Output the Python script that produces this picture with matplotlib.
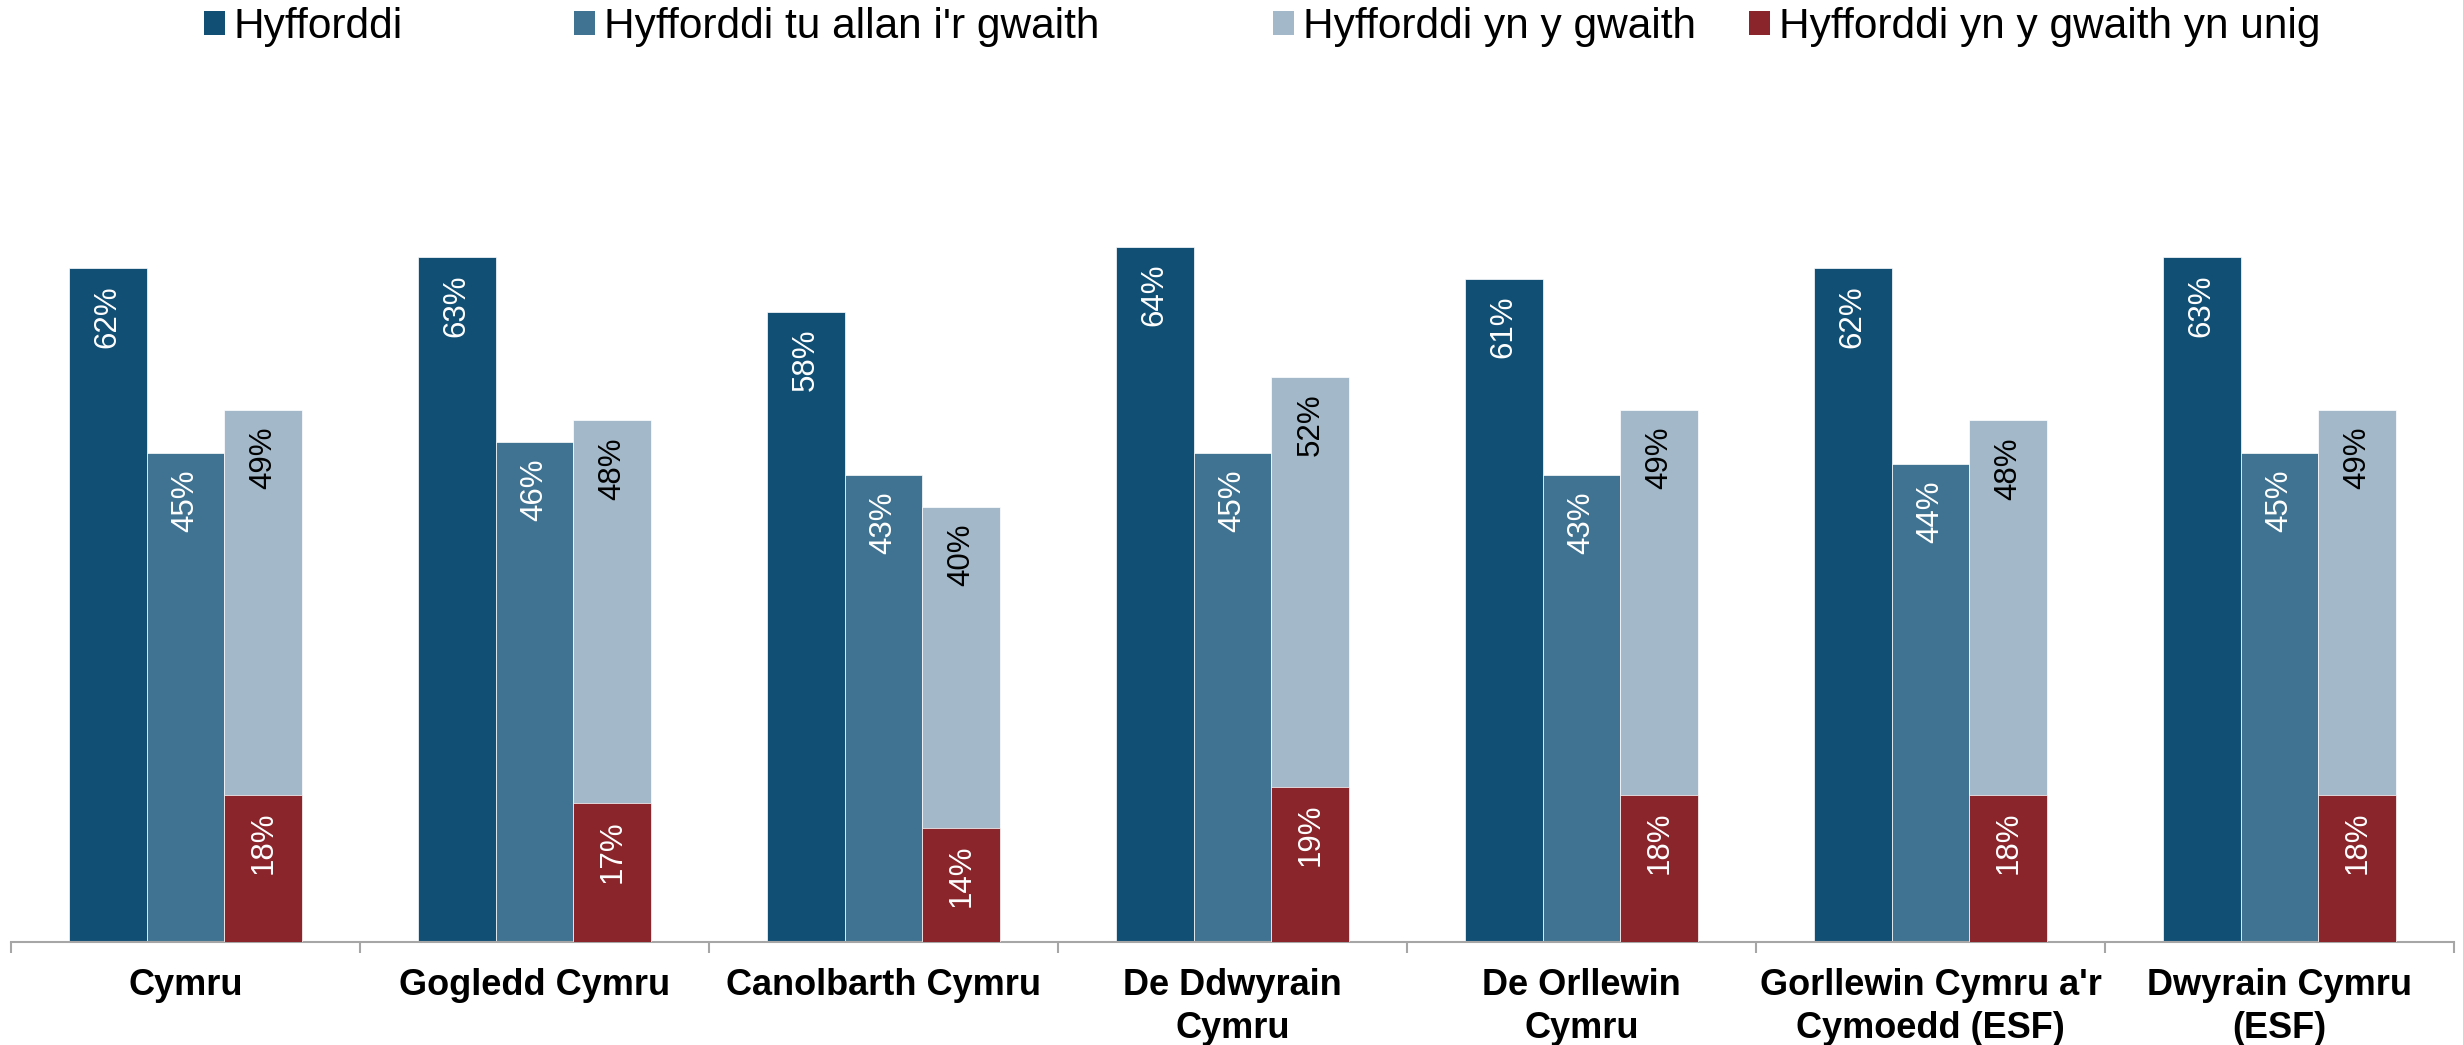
import numpy as np
import matplotlib.pyplot as plt
from matplotlib.patches import Patch

plt.rcParams["font.family"] = ["Liberation Sans", "DejaVu Sans"]

regions = [
    "Cymru",
    "Gogledd Cymru",
    "Canolbarth Cymru",
    "De Ddwyrain\nCymru",
    "De Orllewin\nCymru",
    "Gorllewin Cymru a'r\nCymoedd (ESF)",
    "Dwyrain Cymru\n(ESF)",
]
series_names = [
    "Hyfforddi",
    "Hyfforddi tu allan i'r gwaith",
    "Hyfforddi yn y gwaith",
    "Hyfforddi yn y gwaith yn unig",
]
hyfforddi = [62, 63, 58, 64, 61, 62, 63]
tu_allan = [45, 46, 43, 45, 43, 44, 45]
yn_y_gwaith = [49, 48, 40, 52, 49, 48, 49]
yn_unig = [18, 17, 14, 19, 18, 18, 18]

colors = ["#114F74", "#407391", "#A3B9C9", "#8A252B"]
label_colors = ["white", "white", "black", "white"]
axis_grey = "#A6A6A6"

fig = plt.figure(figsize=(24.63, 10.45), dpi=100)
ax = fig.add_axes([11 / 2463, 1 - 942 / 1045, (2454 - 11) / 2463, 815 / 1045])
ax2 = ax.twinx()  # red series sits on its own scale

x = np.arange(len(regions))
w = 0.2227


def add_labels(axis, bars, vals, color):
    for b, v in zip(bars, vals):
        axis.annotate(f"{v}%", (b.get_x() + b.get_width() / 2, b.get_height()),
                      xytext=(0, -12), textcoords="offset points",
                      rotation=90, ha="center", va="top",
                      fontsize=22.5, color=color)


main_series = [hyfforddi, tu_allan, yn_y_gwaith]
for i, vals in enumerate(main_series):
    bars = ax.bar(x + (i - 1) * w, vals, w, color=colors[i],
                  edgecolor="white", linewidth=0.5)
    add_labels(ax, bars, vals, label_colors[i])

bars = ax2.bar(x + w, yn_unig, w, color=colors[3], edgecolor="white", linewidth=0.5)
add_labels(ax2, bars, yn_unig, label_colors[3])

ax.set_ylim(0, 75)
ax2.set_ylim(0, 100)
ax.set_xlim(-0.5, len(regions) - 0.5)

for a in (ax, ax2):
    for s in ("left", "right", "top"):
        a.spines[s].set_visible(False)
    a.set_yticks([])
ax2.spines["bottom"].set_visible(False)
ax.spines["bottom"].set_color(axis_grey)
ax.spines["bottom"].set_linewidth(1.5)

ax.set_xticks(x)
ax.set_xticklabels(regions, fontsize=26, fontweight="bold", linespacing=1.27)
ax.tick_params(axis="x", which="major", length=0, pad=19)
ax.set_xticks(np.arange(-0.5, len(regions)), minor=True)
ax.tick_params(axis="x", which="minor", length=8, width=1.5, color=axis_grey)

legend_x = [204 / 2463, 574 / 2463, 1273 / 2463, 1749 / 2463]
for name, c, lx in zip(series_names, colors, legend_x):
    fig.legend(handles=[Patch(facecolor=c, label=name)], loc="center left",
               bbox_to_anchor=(lx, 0.974), frameon=False, fontsize=30.5,
               borderpad=0, borderaxespad=0, handlelength=0.5,
               handleheight=0.5, handletextpad=0.2)

fig.savefig("out.png", dpi=100)
